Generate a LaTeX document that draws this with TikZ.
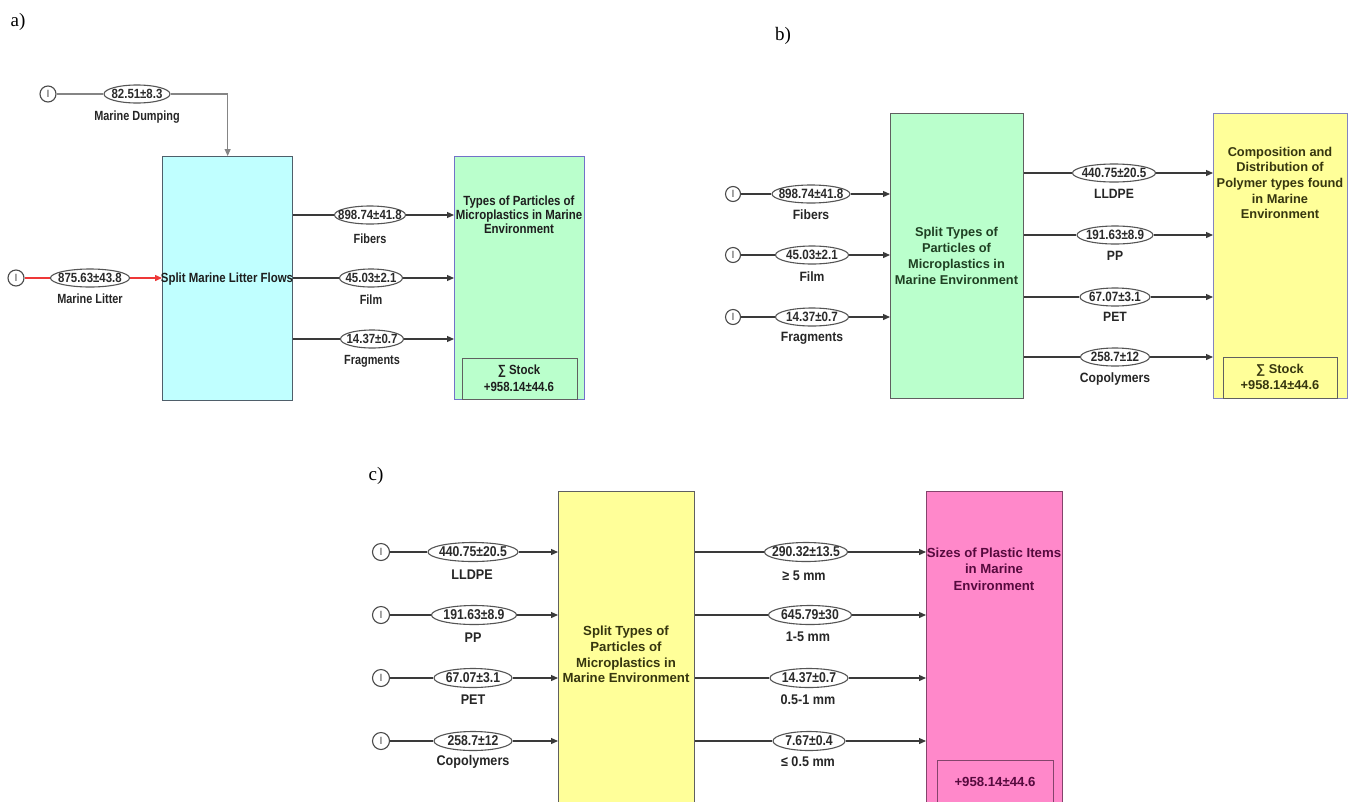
\documentclass[tikz,border=0pt]{standalone}
\usepackage{fontspec}
\setmainfont{Liberation Sans}
\newfontfamily\serifpanel{Liberation Serif}
\newfontfamily\nfA[FakeStretch=0.82]{Liberation Sans}
\newfontfamily\nfB[FakeStretch=0.86]{Liberation Sans}
\newfontfamily\nfV[FakeStretch=0.86]{Liberation Sans}
\newfontfamily\nfL[FakeStretch=0.9]{Liberation Sans}
\usetikzlibrary{shapes.geometric,arrows.meta}
\definecolor{cyanfill}{HTML}{C0FFFF}
\definecolor{greenfill}{HTML}{BAFFCC}
\definecolor{yellowfill}{HTML}{FFFF99}
\definecolor{pinkfill}{HTML}{FF88CA}
\definecolor{lncol}{HTML}{3A3A3A}
\definecolor{lightln}{HTML}{858585}
\definecolor{redln}{HTML}{EE3838}
\definecolor{srccol}{HTML}{4A4A4A}
\definecolor{ellcol}{HTML}{555555}
\definecolor{valcol}{HTML}{2A2A2A}
\definecolor{lblcol}{HTML}{262626}
\definecolor{cyanbd}{HTML}{4F5F6A}
\definecolor{bluebd}{HTML}{7272C8}
\definecolor{graybd}{HTML}{606060}
\definecolor{purplebd}{HTML}{8484BE}
\definecolor{pinkbd}{HTML}{84446C}
\definecolor{greentxt}{HTML}{1F3F22}
\definecolor{olivetxt}{HTML}{36360F}
\definecolor{pinktxt}{HTML}{560A3E}
\definecolor{darktxt}{HTML}{1E1E1E}
\tikzset{
  ln/.style={draw=lncol, line width=1.2pt},
  tip/.style={-{Triangle[length=7pt,width=6pt]}},
  srcnode/.style={circle, draw=srccol, line width=1.1pt, fill=white, minimum size=16pt, inner sep=0pt, font=\fontsize{10.5}{10}\selectfont, text=srccol},
  ev/.style={ellipse, draw=ellcol, line width=1.1pt, fill=white, inner sep=0pt, minimum height=18pt},
  vA/.style={font=\fontsize{13.3}{14}\nfV\bfseries, text=valcol, inner sep=0pt},
  vB/.style={font=\fontsize{13.5}{14}\nfV\bfseries, text=valcol, inner sep=0pt},
  vC/.style={font=\fontsize{14.2}{15}\nfV\bfseries, text=valcol, inner sep=0pt},
  lA/.style={font=\fontsize{13.3}{14}\nfA\bfseries, text=lblcol, inner sep=0pt},
  lB/.style={font=\fontsize{13.5}{14}\nfL\bfseries, text=lblcol, inner sep=0pt},
  lC/.style={font=\fontsize{14}{15}\nfL\bfseries, text=lblcol, inner sep=0pt},
  boxn/.style={draw, line width=1.3pt, inner sep=0pt, anchor=north west},
  btA/.style={font=\fontsize{13.3}{14}\nfB\bfseries, align=center, inner sep=0pt, text=darktxt},
  btB/.style={font=\fontsize{12.8}{16}\bfseries, align=center, inner sep=0pt},
  btC/.style={font=\fontsize{13.2}{16}\bfseries, align=center, inner sep=0pt},
  panel/.style={font=\fontsize{19}{20}\serifpanel, inner sep=0pt}
}
\begin{document}
\begin{tikzpicture}[x=1pt,y=-1pt]
\useasboundingbox[fill=white] (0,0) rectangle (1359,801);
\clip (0,0) rectangle (1359,801);

% ---------------- panel a ----------------
\node[panel] (pa) at (18,22) {a)};
\node[boxn, fill=cyanfill, draw=cyanbd, minimum width=130pt, minimum height=244pt] (ca) at (162,156) {};
\node[boxn, fill=greenfill, draw=bluebd, minimum width=130pt, minimum height=243pt] (ga) at (454,156) {};
\node[boxn, draw=graybd, minimum width=115pt, minimum height=41pt] (sa) at (462,358) {};
\node[btA] (tca) at (227,279) {Split Marine Litter Flows};
\node[btA, font=\fontsize{13.3}{14}\nfB\bfseries] (tga) at (519,215) {Types of Particles of\\Microplastics in Marine\\Environment};
\node[btA, font=\fontsize{13.3}{17}\nfB\bfseries] (tsa) at (519,378) {∑ Stock\\+958.14±44.6};

\node[srcnode] (sd) at (48,94) {I};
\node[ev, minimum width=66pt, label={[vA]center:82.51±8.3}] (ed) at (137,94) {};
\node[lA] (ld) at (137,117) {Marine Dumping};
\draw[draw=lightln, line width=1.1pt] (sd) -- (ed);
\draw[draw=lightln, line width=1.1pt, -{Triangle[length=7pt,width=6pt,fill=lightln]}] (ed) -| (ca.north);

\node[srcnode] (sl) at (16,278) {I};
\node[ev, minimum width=79pt, label={[vA]center:875.63±43.8}] (el) at (90,278) {};
\node[lA] (ll) at (90,299) {Marine Litter};
\draw[draw=redln, line width=1.4pt] (sl) -- (el);
\draw[draw=redln, line width=1.4pt, tip] (el) -- (el -| ca.west);

\node[ev, minimum width=71pt, label={[vA]center:898.74±41.8}] (a1) at (370,215) {};
\node[ev, minimum width=63pt, label={[vA]center:45.03±2.1}] (a2) at (371,278) {};
\node[ev, minimum width=63pt, label={[vA]center:14.37±0.7}] (a3) at (372,339) {};
\node[lA] (la1) at (370,239) {Fibers};
\node[lA] (la2) at (371,300) {Film};
\node[lA] (la3) at (372,361) {Fragments};
\foreach \e in {a1,a2,a3}{
  \draw[ln] (ca.east |- \e) -- (\e);
  \draw[ln, tip] (\e) -- (\e -| ga.west);
}

% ---------------- panel b ----------------
\node[panel] (pb) at (783,36) {b)};
\node[boxn, fill=greenfill, draw=graybd, minimum width=133pt, minimum height=285pt] (gb) at (890,113) {};
\node[boxn, fill=yellowfill, draw=purplebd, minimum width=134pt, minimum height=285pt] (yb) at (1213,113) {};
\node[boxn, draw=graybd, minimum width=114pt, minimum height=41pt] (sb) at (1223,357) {};
\node[btB, text=greentxt] (tgb) at (956.5,256) {Split Types of\\Particles of\\Microplastics in\\Marine Environment};
\node[btB, text=olivetxt, font=\fontsize{12.8}{15.7}\bfseries] (tyb) at (1280,183) {Composition and\\Distribution of\\Polymer types found\\in Marine\\Environment};
\node[btB, text=olivetxt] (tsb) at (1280,377) {∑ Stock\\+958.14±44.6};

\node[srcnode, minimum size=15pt] (b1s) at (733,194) {I};
\node[srcnode, minimum size=15pt] (b2s) at (733,255) {I};
\node[srcnode, minimum size=15pt] (b3s) at (733,317) {I};
\node[ev, minimum width=78pt, label={[vB]center:898.74±41.8}] (b1) at (811,194) {};
\node[ev, minimum width=73pt, label={[vB]center:45.03±2.1}] (b2) at (812,255) {};
\node[ev, minimum width=73pt, label={[vB]center:14.37±0.7}] (b3) at (812,317) {};
\node[lB] (lb1) at (811,215) {Fibers};
\node[lB] (lb2) at (812,277) {Film};
\node[lB] (lb3) at (812,338) {Fragments};
\foreach \s/\e in {b1s/b1,b2s/b2,b3s/b3}{
  \draw[ln] (\s) -- (\e);
  \draw[ln, tip] (\e) -- (\e -| gb.west);
}
\node[ev, minimum width=83pt, label={[vB]center:440.75±20.5}] (o1) at (1114,173) {};
\node[ev, minimum width=76pt, label={[vB]center:191.63±8.9}] (o2) at (1115,235) {};
\node[ev, minimum width=70pt, label={[vB]center:67.07±3.1}] (o3) at (1115,297) {};
\node[ev, minimum width=69pt, label={[vB]center:258.7±12}] (o4) at (1115,357) {};
\node[lB] (lo1) at (1114,194) {LLDPE};
\node[lB] (lo2) at (1115,256) {PP};
\node[lB] (lo3) at (1115,317) {PET};
\node[lB] (lo4) at (1115,379) {Copolymers};
\foreach \e in {o1,o2,o3,o4}{
  \draw[ln] (gb.east |- \e) -- (\e);
  \draw[ln, tip] (\e) -- (\e -| yb.west);
}

% ---------------- panel c ----------------
\node[panel] (pc) at (376,476) {c)};
\node[boxn, fill=yellowfill, draw=graybd, minimum width=136pt, minimum height=330pt] (yc) at (558,491) {};
\node[boxn, fill=pinkfill, draw=pinkbd, minimum width=136pt, minimum height=330pt] (pkc) at (926,491) {};
\node[boxn, draw=pinkbd, minimum width=116pt, minimum height=60pt] (sc) at (937,760) {};
\node[btC, text=olivetxt, font=\fontsize{13.2}{15.7}\bfseries] (tyc) at (626,654.5) {Split Types of\\Particles of\\Microplastics in\\Marine Environment};
\node[btC, text=pinktxt, font=\fontsize{13.2}{16.5}\bfseries] (tpc) at (994,569) {Sizes of Plastic Items\\in Marine\\Environment};
\node[btC, text=pinktxt] (tsc) at (995,782) {+958.14±44.6};

\node[srcnode, minimum size=17pt] (c1s) at (381,552) {I};
\node[srcnode, minimum size=17pt] (c2s) at (381,615) {I};
\node[srcnode, minimum size=17pt] (c3s) at (381,678) {I};
\node[srcnode, minimum size=17pt] (c4s) at (381,741) {I};
\node[ev, minimum width=90pt, minimum height=19pt, label={[vC]center:440.75±20.5}] (c1) at (473,552) {};
\node[ev, minimum width=85pt, minimum height=19pt, label={[vC]center:191.63±8.9}] (c2) at (474,615) {};
\node[ev, minimum width=78pt, minimum height=19pt, label={[vC]center:67.07±3.1}] (c3) at (473,678) {};
\node[ev, minimum width=78pt, minimum height=19pt, label={[vC]center:258.7±12}] (c4) at (473,741) {};
\node[lC] (lc1) at (472,575) {LLDPE};
\node[lC] (lc2) at (473,638) {PP};
\node[lC] (lc3) at (473,700) {PET};
\node[lC] (lc4) at (473,762) {Copolymers};
\foreach \s/\e in {c1s/c1,c2s/c2,c3s/c3,c4s/c4}{
  \draw[ln] (\s) -- (\e);
  \draw[ln, tip] (\e) -- (\e -| yc.west);
}
\node[ev, minimum width=83pt, minimum height=19pt, label={[vC]center:290.32±13.5}] (d1) at (806,552) {};
\node[ev, minimum width=83pt, minimum height=19pt, label={[vC]center:645.79±30}] (d2) at (810,615) {};
\node[ev, minimum width=78pt, minimum height=19pt, label={[vC]center:14.37±0.7}] (d3) at (809,678) {};
\node[ev, minimum width=72pt, minimum height=19pt, label={[vC]center:7.67±0.4}] (d4) at (809,741) {};
\node[lC] (ld1) at (804,576) {≥ 5 mm};
\node[lC] (ld2) at (808,637) {1-5 mm};
\node[lC] (ld3) at (808,700) {0.5-1 mm};
\node[lC] (ld4) at (808,762) {≤ 0.5 mm};
\foreach \e in {d1,d2,d3,d4}{
  \draw[ln] (yc.east |- \e) -- (\e);
  \draw[ln, tip] (\e) -- (\e -| pkc.west);
}
\end{tikzpicture}
\end{document}
